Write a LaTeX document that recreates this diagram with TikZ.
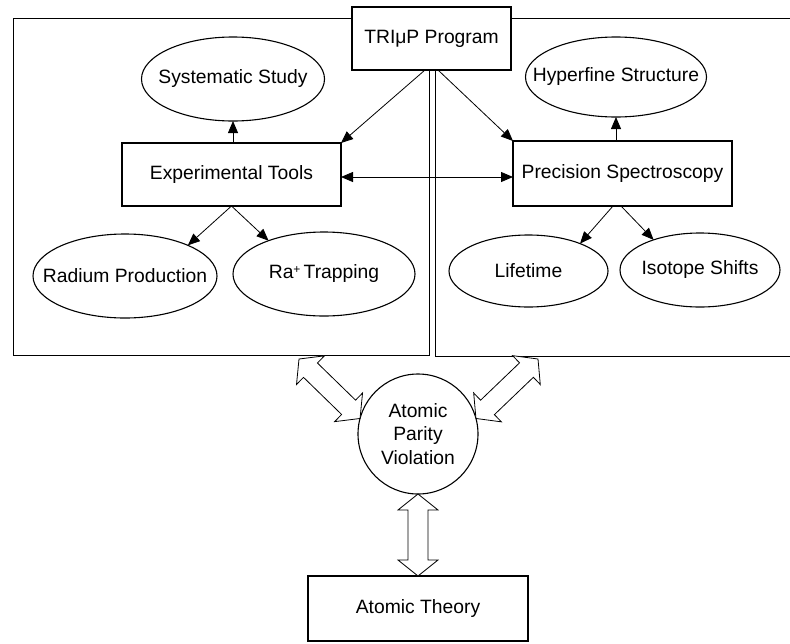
\documentclass[tikz,border=0pt]{standalone}
\usepackage{fontspec}
\setmainfont{Liberation Sans}
\usetikzlibrary{arrows.meta,calc,shapes.geometric}
\newcommand\fatdbl[2]{\draw[fat] (#1) -- ($(#1)!16pt!(#2)!20pt!90:(#2)$) -- ($(#1)!16pt!(#2)!10pt!90:(#2)$) -- ($(#2)!16pt!(#1)!10pt!-90:(#1)$) -- ($(#2)!16pt!(#1)!20pt!-90:(#1)$) -- (#2) -- ($(#2)!16pt!(#1)!20pt!90:(#1)$) -- ($(#2)!16pt!(#1)!10pt!90:(#1)$) -- ($(#1)!16pt!(#2)!10pt!-90:(#2)$) -- ($(#1)!16pt!(#2)!20pt!-90:(#2)$) -- cycle;}
\tikzset{
 base/.style={draw, line width=1.1pt, inner sep=0pt, outer sep=0pt, fill=white, font=\fontsize{19.3}{23.2}\selectfont},
 rbox/.style={base, rectangle},
 ell/.style={base, ellipse, execute at begin node={\hbox to 0pt\bgroup\hss}, execute at end node={\hss\egroup}},
 circ/.style={base, circle, align=center},
 arr/.style={-{Triangle[length=12pt,width=10pt]}, line width=0.8pt},
 darr/.style={{Triangle[length=12pt,width=10pt]}-{Triangle[length=12pt,width=10pt]}, line width=0.8pt},
 fat/.style={draw, line width=0.8pt, fill=white},
 frame/.style={draw, line width=1pt}
}
\begin{document}
\begin{tikzpicture}[x=1pt,y=-1pt]
\useasboundingbox (0,0) rectangle (790,643);
\draw[frame] (13,18) rectangle (429.5,355.5);
\draw[frame] (435.5,18) rectangle (800,356.5);
\node[rbox, minimum width=159, minimum height=63] (trip) at (431.5,38.5) {TRIμP Program};
\node[rbox, minimum width=219, minimum height=63] (exp) at (231.5,174.5) {Experimental Tools};
\node[rbox, minimum width=219, minimum height=65] (prec) at (622.5,173.5) {Precision Spectroscopy};
\node[rbox, minimum width=220, minimum height=65] (theory) at (418,608.5) {Atomic Theory};
\node[ell, minimum width=183, minimum height=84] (sys) at (233,79) {Systematic Study};
\node[ell, minimum width=181, minimum height=80] (hyp) at (616,77) {Hyperfine Structure};
\node[ell, minimum width=184, minimum height=84] (rad) at (125,276) {Radium Production};
\node[ell, minimum width=182, minimum height=84] (tra) at (324,274) {Ra\raisebox{5.5pt}{\fontsize{12}{12}\selectfont +}\,Trapping};
\node[ell, minimum width=159, minimum height=72] (life) at (528.5,271) {Lifetime};
\node[ell, minimum width=160, minimum height=74] (iso) at (700,270) {Isotope Shifts};
\node[circ, minimum size=120] (apv) at (418,434) {Atomic\\Parity\\Violation};
\coordinate (fl) at (299,359);
\coordinate (fr) at (538,359);
\draw[arr] ([xshift=-6.5pt]trip.south) -- (exp.north east);
\draw[arr] ([xshift=6.5pt]trip.south) -- (prec.north west);
\draw[darr] ([yshift=-2.5pt]exp.east) -- ([yshift=-3.5pt]prec.west);
\draw[arr] (sys.south |- exp.north) -- (sys.south);
\draw[arr] (hyp.south |- prec.north) -- (hyp.south);
\draw[arr] (exp.south) -- (rad.26);
\draw[arr] (exp.south) -- (tra.149);
\draw[arr] ([xshift=-9.5pt]prec.south) -- (life.28);
\draw[arr] ([xshift=-1.5pt]prec.south) -- (iso.147);
\fatdbl{fl}{apv.165}
\fatdbl{fr}{apv.15}
\fatdbl{apv.south}{theory.north}
\end{tikzpicture}
\end{document}
